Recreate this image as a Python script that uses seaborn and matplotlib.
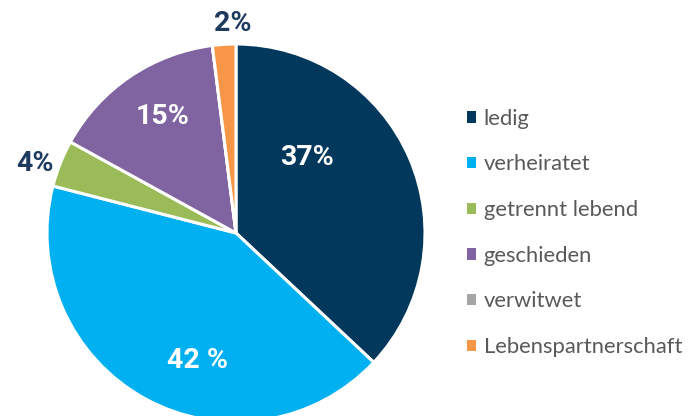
import matplotlib
matplotlib.use("Agg")
import matplotlib.pyplot as plt
import seaborn as sns
from matplotlib.patches import Patch

categories = ["ledig", "verheiratet", "getrennt lebend", "geschieden", "verwitwet", "Lebenspartnerschaft"]
values = [37, 42, 4, 15, 0, 2]
value_labels = ["37%", "42 %", "4%", "15%", "", "2%"]

colors = ["#02385c", "#00b0f0", "#9bbb59", "#8064a2", "#a5a5a5", "#f79646"]
# label positions (data coords, pie radius = 1) and colours
label_pos = [(0.376, 0.402), (-0.206, -0.672), (-1.064, 0.370), (-0.389, 0.614), (0, 0), (-0.019, 1.106)]
label_col = ["white", "white", "#1f3a5f", "white", "white", "#1f3a5f"]

sns.set_theme(style="white")
plt.rcParams["font.family"] = ["Roboto", "DejaVu Sans"]

W, H = 700, 416
fig = plt.figure(figsize=(W / 100, H / 100), dpi=100)
cx, cy, r = 236, 416 - 233, 189
ax = fig.add_axes([(cx - r) / W, (cy - r) / H, 2 * r / W, 2 * r / H])
wedges, _ = ax.pie(values, colors=colors, startangle=90, counterclock=False,
                   wedgeprops=dict(edgecolor="white", linewidth=2.2))
ax.set_xlim(-1, 1)
ax.set_ylim(-1, 1)
ax.set_aspect("equal")
ax.axis("off")

for txt, (x, y), c in zip(value_labels, label_pos, label_col):
    if txt:
        ax.text(x, y, txt, ha="center", va="center", color=c, fontsize=20.5,
                fontweight="bold", clip_on=False)

handles = [Patch(facecolor=c, edgecolor="none") for c in colors]
leg = fig.legend(handles, categories, loc="upper left",
                 bbox_to_anchor=(458 / W, 1 - 100 / H), frameon=False,
                 prop=dict(family=["Lato", "DejaVu Sans"], size=15.8),
                 labelcolor="#595959", handlelength=0.42, handleheight=0.42,
                 handletextpad=0.35, labelspacing=1.17, borderaxespad=0)

fig.savefig("out.png", dpi=100)
